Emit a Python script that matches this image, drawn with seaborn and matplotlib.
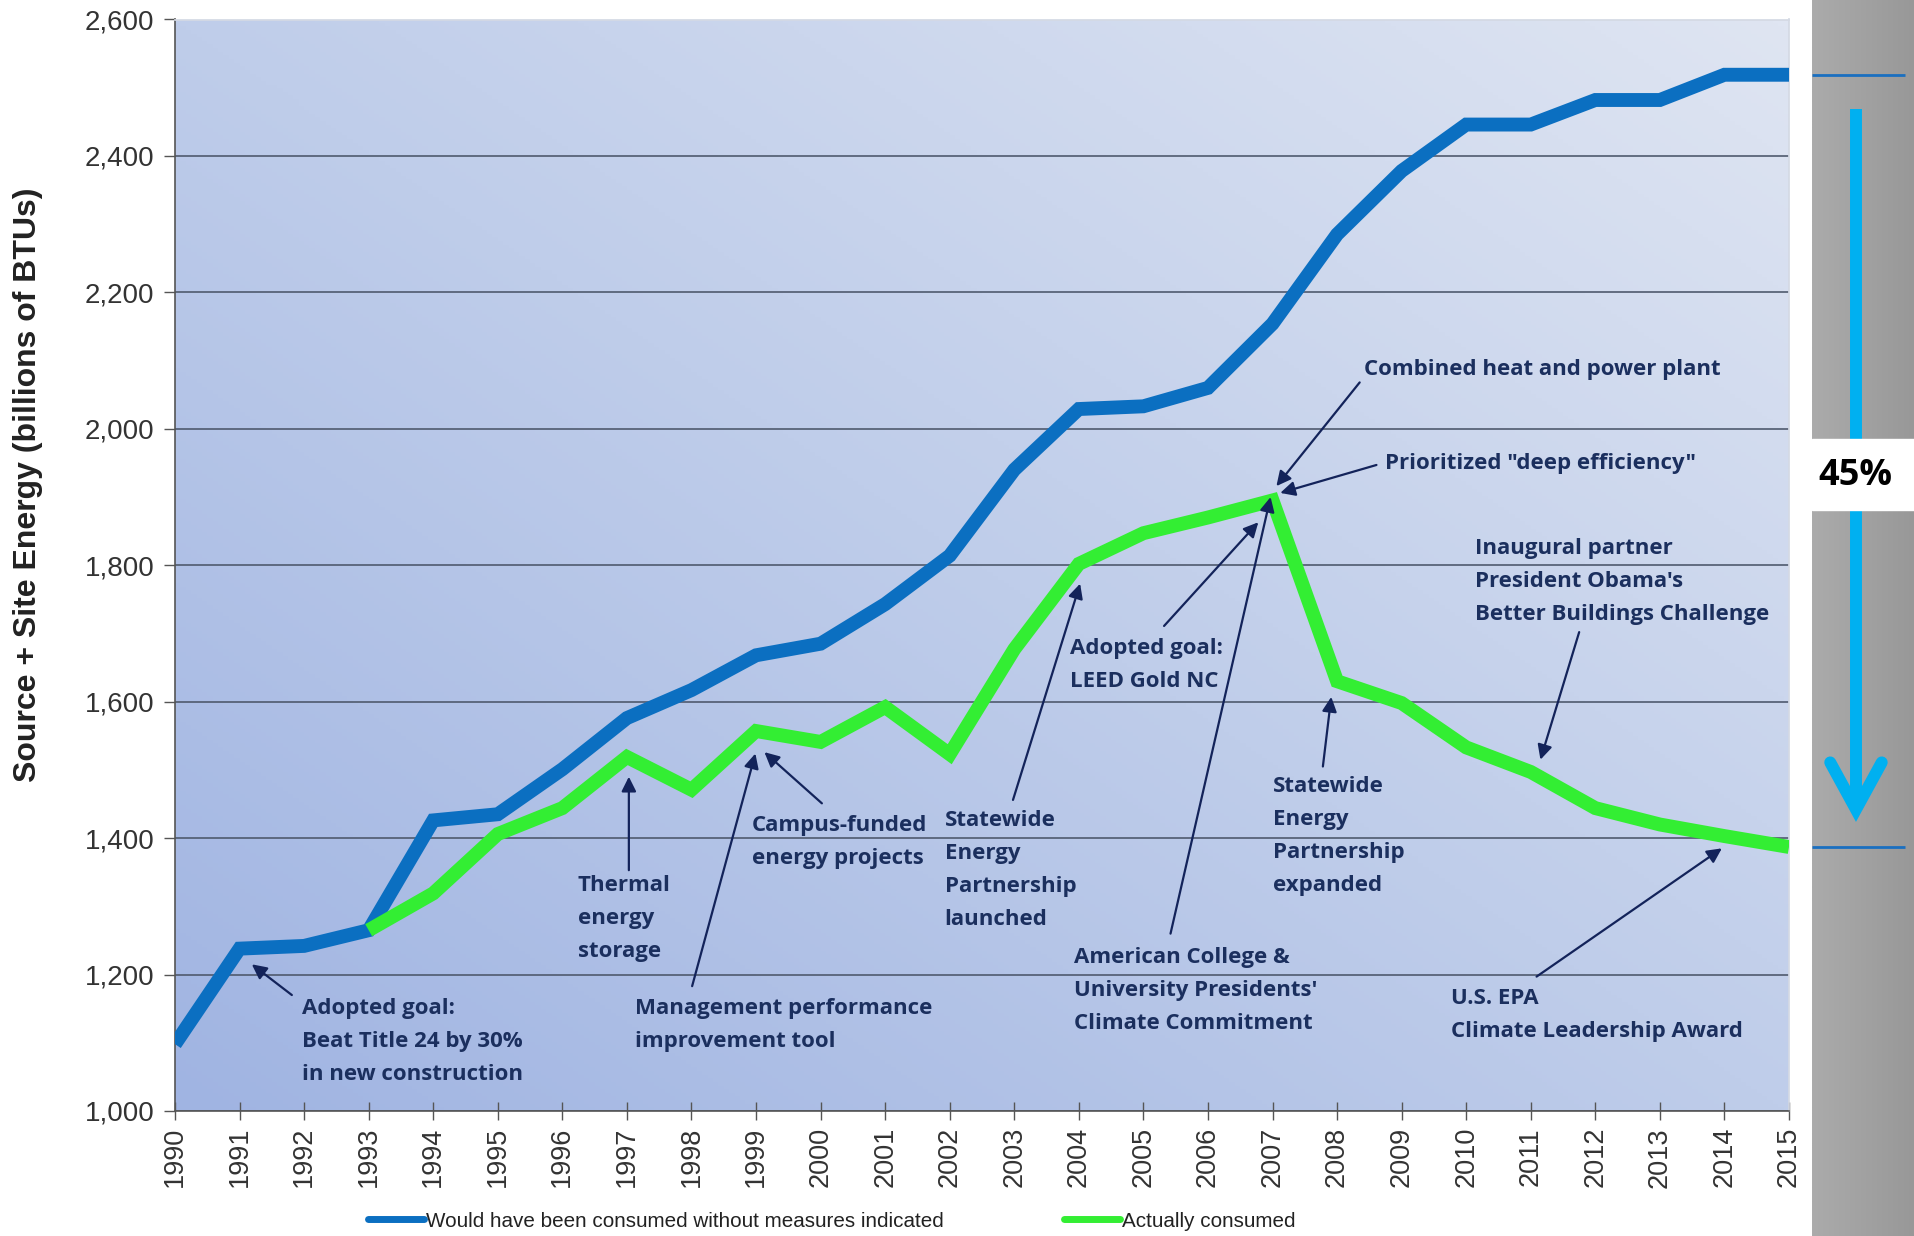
import numpy as np
import pandas as pd
import seaborn as sns
import matplotlib.pyplot as plt
from matplotlib.lines import Line2D
from matplotlib.colors import LinearSegmentedColormap

# values (billions of BTUs)
years = list(range(1990, 2016))
would_have = [1098, 1238, 1242, 1265, 1426, 1435, 1501, 1576, 1617, 1668,
              1685, 1743, 1814, 1940, 2029, 2033, 2060, 2154, 2285, 2378,
              2446, 2446, 2482, 2482, 2519, 2519]
actual_years = list(range(1993, 2016))
actual = [1265, 1319, 1406, 1444, 1519, 1471, 1557, 1541, 1592, 1523,
          1677, 1802, 1847, 1870, 1895, 1630, 1598, 1533, 1497, 1444,
          1420, 1403, 1387]
series_names = ["Would have been consumed without measures indicated",
                "Actually consumed"]
y_ticks = list(range(1000, 2601, 200))

BLUE = "#0b6fc1"
GREEN = "#33ee33"
NAVY = "#1b2f5e"
ARROW = "#13235a"
CYAN = "#00b0f0"
NOTE_FONT = ["Open Sans", "DejaVu Sans"]

df = pd.concat([
    pd.DataFrame({"year": years, "value": would_have, "series": series_names[0]}),
    pd.DataFrame({"year": actual_years, "value": actual, "series": series_names[1]}),
])

sns.set_theme(style="white")
plt.rcParams["font.family"] = ["Liberation Sans", "DejaVu Sans"]

fig = plt.figure(figsize=(19.15, 12.36), dpi=100)
ax = fig.add_axes([175 / 1915, 1 - 1111 / 1236, (1789 - 175) / 1915, (1111 - 19.5) / 1236])

# diagonal blue gradient behind the plot
xx, yy = np.meshgrid(np.linspace(0, 1, 300), np.linspace(0, 1, 300))
bg_cmap = LinearSegmentedColormap.from_list("bg", ["#a0b4e2", "#bfcdea", "#dfe5f2"])
ax.imshow((xx + yy) / 2, cmap=bg_cmap, origin="lower", extent=[0, 1, 0, 1],
          transform=ax.transAxes, aspect="auto", zorder=0)

sns.lineplot(data=df, x="year", y="value", hue="series", palette=[BLUE, GREEN],
             lw=10, ax=ax, legend=False, zorder=3,
             solid_capstyle="butt", solid_joinstyle="miter")

ax.set_xlim(years[0], years[-1])
ax.set_ylim(y_ticks[0], y_ticks[-1])
ax.set_yticks(y_ticks)
ax.set_yticklabels([f"{v:,}" for v in y_ticks])
ax.set_xticks(years)
ax.set_xticklabels([str(y) for y in years], rotation=90)
ax.yaxis.grid(True, color="#4f5a6e", lw=1.2)
ax.xaxis.grid(False)
ax.tick_params(axis="y", direction="out", length=8, width=1, color="#555555",
               labelsize=20, labelcolor="#333333", pad=7, left=True)
ax.tick_params(axis="x", direction="inout", length=13, width=1, color="#555555",
               labelsize=19.5, labelcolor="#333333", pad=5, bottom=True)
for side in ["left", "bottom"]:
    ax.spines[side].set_color("#555555")
    ax.spines[side].set_linewidth(1.2)
for side in ["top", "right"]:
    ax.spines[side].set_color("#d4d9e4")
ax.set_xlabel("")
ax.set_ylabel("Source + Site Energy (billions of BTUs)", fontsize=23,
              fontweight="bold", color="#222222")
ax.yaxis.set_label_coords(-0.0818, 0.5735)

# event annotations: text (left, top), arrow tail, arrow tip
notes = [
    ("Adopted goal:\nBeat Title 24 by 30%\nin new construction", (1991.97, 1165), (1991.81, 1170), (1991.19, 1215)),
    ("Thermal\nenergy\nstorage", (1996.24, 1346), (1997.03, 1353), (1997.03, 1490)),
    ("Campus-funded\nenergy projects", (1998.94, 1434), (2000.02, 1451), (1999.13, 1526)),
    ("Management performance\nimprovement tool", (1997.12, 1165), (1998.01, 1183), (1998.99, 1524)),
    ("Statewide\nEnergy\nPartnership\nlaunched", (2001.92, 1441), (2002.98, 1456), (2004.02, 1773)),
    ("Adopted goal:\nLEED Gold NC", (2003.87, 1693), (2005.32, 1711), (2006.78, 1863)),
    ("American College &\nUniversity Presidents'\nClimate Commitment", (2003.93, 1240), (2005.42, 1260), (2006.97, 1900)),
    ("Combined heat and power plant", (2008.42, 2103), (2008.35, 2068), (2007.06, 1916)),
    ('Prioritized "deep efficiency"', (2008.75, 1965), (2008.61, 1947), (2007.12, 1906)),
    ("Statewide\nEnergy\nPartnership\nexpanded", (2007.01, 1491), (2007.78, 1505), (2007.91, 1607)),
    ("Inaugural partner\nPresident Obama's\nBetter Buildings Challenge", (2010.14, 1840), (2011.75, 1702), (2011.15, 1515)),
    ("U.S. EPA\nClimate Leadership Award", (2009.77, 1181), (2011.09, 1197), (2013.96, 1385)),
]
for label, pos, tail, tip in notes:
    ax.text(pos[0], pos[1], label, ha="left", va="top", fontsize=16,
            fontweight="bold", color=NAVY, family=NOTE_FONT,
            linespacing=1.75, zorder=5)
    ax.annotate("", xy=tip, xytext=tail, zorder=5,
                arrowprops=dict(arrowstyle="-|>", color=ARROW, lw=1.6,
                                mutation_scale=22, shrinkA=0, shrinkB=0))

# legend below the axis
handles = [Line2D([], [], color=BLUE, lw=5), Line2D([], [], color=GREEN, lw=5)]
fig.legend(handles, series_names, loc="center", bbox_to_anchor=(0.4345, 0.012),
           ncol=2, frameon=False, fontsize=14.9, handlelength=2.7,
           handletextpad=0.1, columnspacing=5.8, labelcolor="#222222")

# grey side panel sharing the data scale of the main axis
pos = ax.get_position()
span = y_ticks[-1] - y_ticks[0]
lo = y_ticks[0] - pos.y0 / pos.height * span
hi = y_ticks[-1] + (1 - pos.y1) / pos.height * span
gax = fig.add_axes([1812 / 1915, 0, 103 / 1915, 1])
gax.set_xlim(0, 1)
gax.set_ylim(lo, hi)
gax.axis("off")
gray_cmap = LinearSegmentedColormap.from_list("gr", ["#ababab", "#989898"])
gax.imshow(np.tile(np.linspace(0, 1, 100), (10, 1)), cmap=gray_cmap,
           extent=[0, 1, lo, hi], aspect="auto", zorder=0)
gax.hlines([would_have[-1], actual[-1]], 0, 0.9, color="#1a6fc0", lw=2, zorder=2)

ax_x = 0.427
top = would_have[-1] - 50
tip_v = actual[-1] + 55
gax.plot([ax_x, ax_x], [top, tip_v + 12], color=CYAN, lw=8.6,
         solid_capstyle="butt", zorder=3)
gax.plot([ax_x - 0.25, ax_x, ax_x + 0.25], [tip_v + 69, tip_v, tip_v + 69],
         color=CYAN, lw=8.6, solid_capstyle="round", solid_joinstyle="miter", zorder=3)
gax.axhspan(1881, 1985, xmin=0, xmax=1, color="white", zorder=4)
pct = round((1 - actual[-1] / would_have[-1]) * 100)
gax.text(0.417, 1931, f"{pct}%", ha="center", va="center", fontsize=26,
         fontweight="bold", color="black", family=NOTE_FONT, zorder=5)

fig.savefig("out.png", dpi=100)
